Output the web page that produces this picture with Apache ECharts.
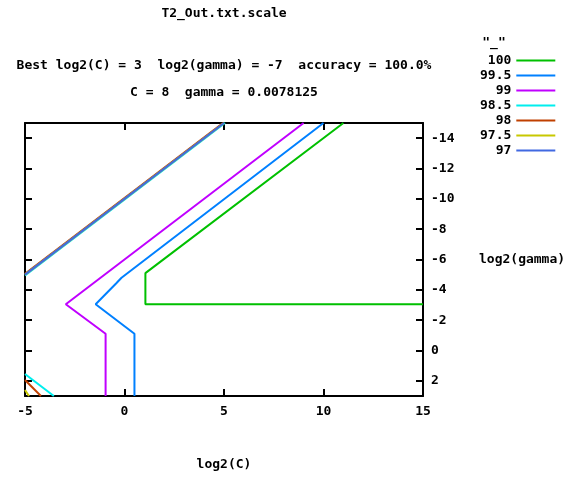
<!DOCTYPE html>
<html>
<head>
<meta charset="UTF-8">
<title>T2_Out.txt.scale</title>
<script src="https://cdn.jsdelivr.net/npm/echarts@6/dist/echarts.min.js"></script>
<style>
  html, body { margin: 0; padding: 0; background: #fff; }
  #chart { width: 566px; height: 478px; }
</style>
</head>
<body>
<div id="chart"></div>
<script>
// contour levels and their colours (gnuplot png defaults)
var levels = ['100', '99.5', '99', '98.5', '98', '97.5', '97'];
var levelColors = ['#00c000', '#0080ff', '#c000ff', '#00eeee', '#c04000', '#c8c800', '#4169e1'];

// tick values
var xTicks = [-5, 0, 5, 10, 15];
var yTicks = [-14, -12, -10, -8, -6, -4, -2, 0, 2];

// contour paths, [log2(C), log2(gamma)]
var c100 = [[11, -15], [1.05, -5.1], [1.05, -3.05], [15, -3.05]];
var c995 = [[10, -15], [-0.15, -4.8], [-0.4, -4.45], [-1.45, -3.05], [0.5, -1.1], [0.5, 3]];
var c99 = [[9, -15], [-2.95, -3.05], [-0.95, -1.1], [-0.95, 3]];
var c985Top = [[5.05, -15], [-5, -4.95]];
var c985Low = [[-5, 1.55], [-3.55, 3]];
var c98Top = [[4.95, -15], [-5, -5.05]];
var c98Low = [[-5, 1.95], [-4.2, 3]];
var c975Top = [[5, -15], [-5, -5]];
var c975Low = [[-5, 2.6], [-4.8, 3]];
var c97Top = [[5, -15], [-5, -5]];

var paths = [
  ['100', c100], ['99.5', c995], ['99', c99],
  ['98.5', c985Top], ['98.5', c985Low],
  ['98', c98Top], ['98', c98Low],
  ['97.5', c975Top], ['97.5', c975Low],
  ['97', c97Top]
];

var FONT = 'bold 13px "DejaVu Sans Mono", "Liberation Mono", monospace';
var fontFam = '"DejaVu Sans Mono", "Liberation Mono", monospace';

var series = paths.map(function (p) {
  var col = levelColors[levels.indexOf(p[0])];
  return {
    name: p[0],
    type: 'line',
    data: p[1],
    symbol: 'none',
    animation: false,
    itemStyle: { color: col },
    lineStyle: { color: col, width: 2 }
  };
});

var axisLine = { onZero: false, lineStyle: { color: '#000', width: 2 } };
var tickStyle = { inside: true, length: 7, lineStyle: { color: '#000', width: 2 } };

var myChart = echarts.init(document.getElementById('chart'));
myChart.setOption({
  animation: false,
  backgroundColor: '#fff',
  grid: { left: 25, right: 143, top: 123, bottom: 82 },
  xAxis: [{
    type: 'value', position: 'bottom', min: -5, max: 15, interval: 5,
    axisLine: axisLine, axisTick: tickStyle, splitLine: { show: false },
    axisLabel: { margin: 9, color: '#000', fontFamily: fontFam, fontWeight: 'bold', fontSize: 13 }
  }, {
    type: 'value', position: 'top', min: -5, max: 15, interval: 5,
    axisLine: axisLine, axisTick: tickStyle, splitLine: { show: false },
    axisLabel: { show: false }
  }],
  yAxis: [{
    type: 'value', position: 'right', inverse: true, min: -15, max: 3,
    axisLine: axisLine, splitLine: { show: false },
    axisTick: { inside: true, length: 7, lineStyle: { color: '#000', width: 2 }, customValues: yTicks },
    axisLabel: { margin: 8, color: '#000', fontFamily: fontFam, fontWeight: 'bold', fontSize: 13, customValues: yTicks }
  }, {
    type: 'value', position: 'left', inverse: true, min: -15, max: 3,
    axisLine: axisLine, splitLine: { show: false },
    axisTick: { inside: true, length: 7, lineStyle: { color: '#000', width: 2 }, customValues: yTicks },
    axisLabel: { show: false }
  }],
  legend: {
    orient: 'vertical', align: 'right', left: 480, top: 53, padding: 0,
    itemGap: 0, itemWidth: 39, itemHeight: 2, icon: 'rect',
    data: levels,
    textStyle: { color: '#000', fontFamily: fontFam, fontWeight: 'bold', fontSize: 13, lineHeight: 15 }
  },
  graphic: [
    { type: 'text', x: 224, y: 14, style: { text: 'T2_Out.txt.scale', font: FONT, fill: '#000', align: 'center', verticalAlign: 'middle' } },
    { type: 'text', x: 224, y: 66, style: { text: 'Best log2(C) = 3  log2(gamma) = -7  accuracy = 100.0%', font: FONT, fill: '#000', align: 'center', verticalAlign: 'middle' } },
    { type: 'text', x: 224, y: 93, style: { text: 'C = 8  gamma = 0.0078125', font: FONT, fill: '#000', align: 'center', verticalAlign: 'middle' } },
    { type: 'text', x: 494, y: 43, style: { text: '"_"', font: FONT, fill: '#000', align: 'center', verticalAlign: 'middle' } },
    { type: 'text', x: 479, y: 260, style: { text: 'log2(gamma)', font: FONT, fill: '#000', align: 'left', verticalAlign: 'middle' } },
    { type: 'text', x: 224, y: 465, style: { text: 'log2(C)', font: FONT, fill: '#000', align: 'center', verticalAlign: 'middle' } }
  ],
  series: series
});
</script>
</body>
</html>
